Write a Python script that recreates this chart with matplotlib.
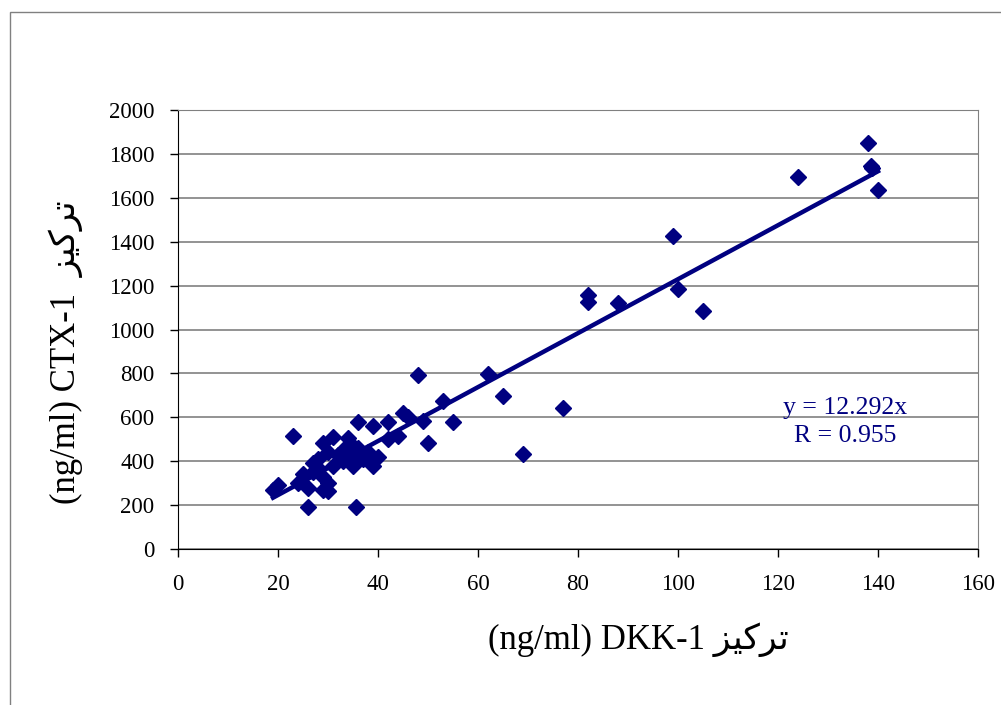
import matplotlib.pyplot as plt
from matplotlib.patches import Rectangle

# DKK-1 (x) and CTX-1 (y) concentrations
dkk1 = [19, 20, 23, 24, 25, 26, 26, 27, 27, 28, 28, 29, 29, 29, 30, 30, 30,
        31, 31, 32, 33, 33, 33, 34, 34, 35, 35, 35.5, 36, 36, 36, 37, 38, 39,
        39, 40, 42, 42, 44, 45, 46, 48, 49, 50, 53, 55, 62, 65, 69, 77, 82,
        82, 88, 99, 100, 105, 124, 138, 138.5, 138.8, 140]
ctx1 = [270, 290, 515, 300, 340, 190, 280, 350, 390, 370, 410, 485, 270, 330,
        300, 440, 265, 510, 380, 430, 400, 450, 420, 505, 420, 380, 470, 190,
        580, 460, 430, 410, 440, 560, 380, 420, 580, 500, 515, 620, 600, 793,
        583, 485, 675, 580, 795, 695, 433, 643, 1155, 1125, 1120, 1428, 1183,
        1085, 1693, 1851, 1746, 1735, 1635]
slope = 12.292
r_value = 0.955

navy = '#000080'
serif = ['Liberation Serif', 'DejaVu Sans']
arabic = '\ufeb0\ufef4\ufedb\ufeae\ufe97'  # visual order

fig = plt.figure(figsize=(10.01, 7.05), dpi=100)
fig.patches.append(Rectangle((10 / 1001, -0.02), 1.0, 1 - 12 / 705 + 0.02,
                             transform=fig.transFigure, fill=False,
                             edgecolor='#808080', linewidth=1))
ax = fig.add_axes([178 / 1001, 1 - 549 / 705, 800 / 1001, 439 / 705])

ax.plot(dkk1, ctx1, linestyle='none', marker='D', markersize=8.5,
        color=navy, zorder=3)
x_fit = [min(dkk1), max(dkk1)]
ax.plot(x_fit, [slope * v for v in x_fit], color=navy, linewidth=3.2, zorder=4)

ax.set_xlim(0, 160)
ax.set_ylim(0, 2000)
ax.set_xticks(range(0, 161, 20))
ax.set_yticks(range(0, 2001, 200))
ax.yaxis.grid(True, color='#808080', linewidth=1.2)
ax.set_axisbelow(True)
for s in ['top', 'right']:
    ax.spines[s].set_color('#808080')
for s in ['left', 'bottom']:
    ax.spines[s].set_color('black')
ax.tick_params(direction='out', length=6, width=1, labelsize=16.5)
for lab in ax.get_xticklabels() + ax.get_yticklabels():
    lab.set_family(serif)
ax.tick_params(axis='x', pad=12)
ax.tick_params(axis='y', pad=11)

ax.text(133.4, 642, f'y = {slope}x', color=navy, fontsize=18.5,
        family=serif, ha='center', va='center')
ax.text(133.4, 514, f'R = {r_value}', color=navy, fontsize=18.5,
        family=serif, ha='center', va='center')

fig.text(638 / 1001, 1 - 640 / 705, '(ng/ml) DKK-1 ' + arabic, fontsize=25,
         family=serif, ha='center', va='center')
fig.text(66 / 1001, 1 - 352 / 705, '(ng/ml) CTX-1  ' + arabic, fontsize=25,
         family=serif, ha='center', va='center', rotation=90)

fig.savefig('out.png', dpi=100)
